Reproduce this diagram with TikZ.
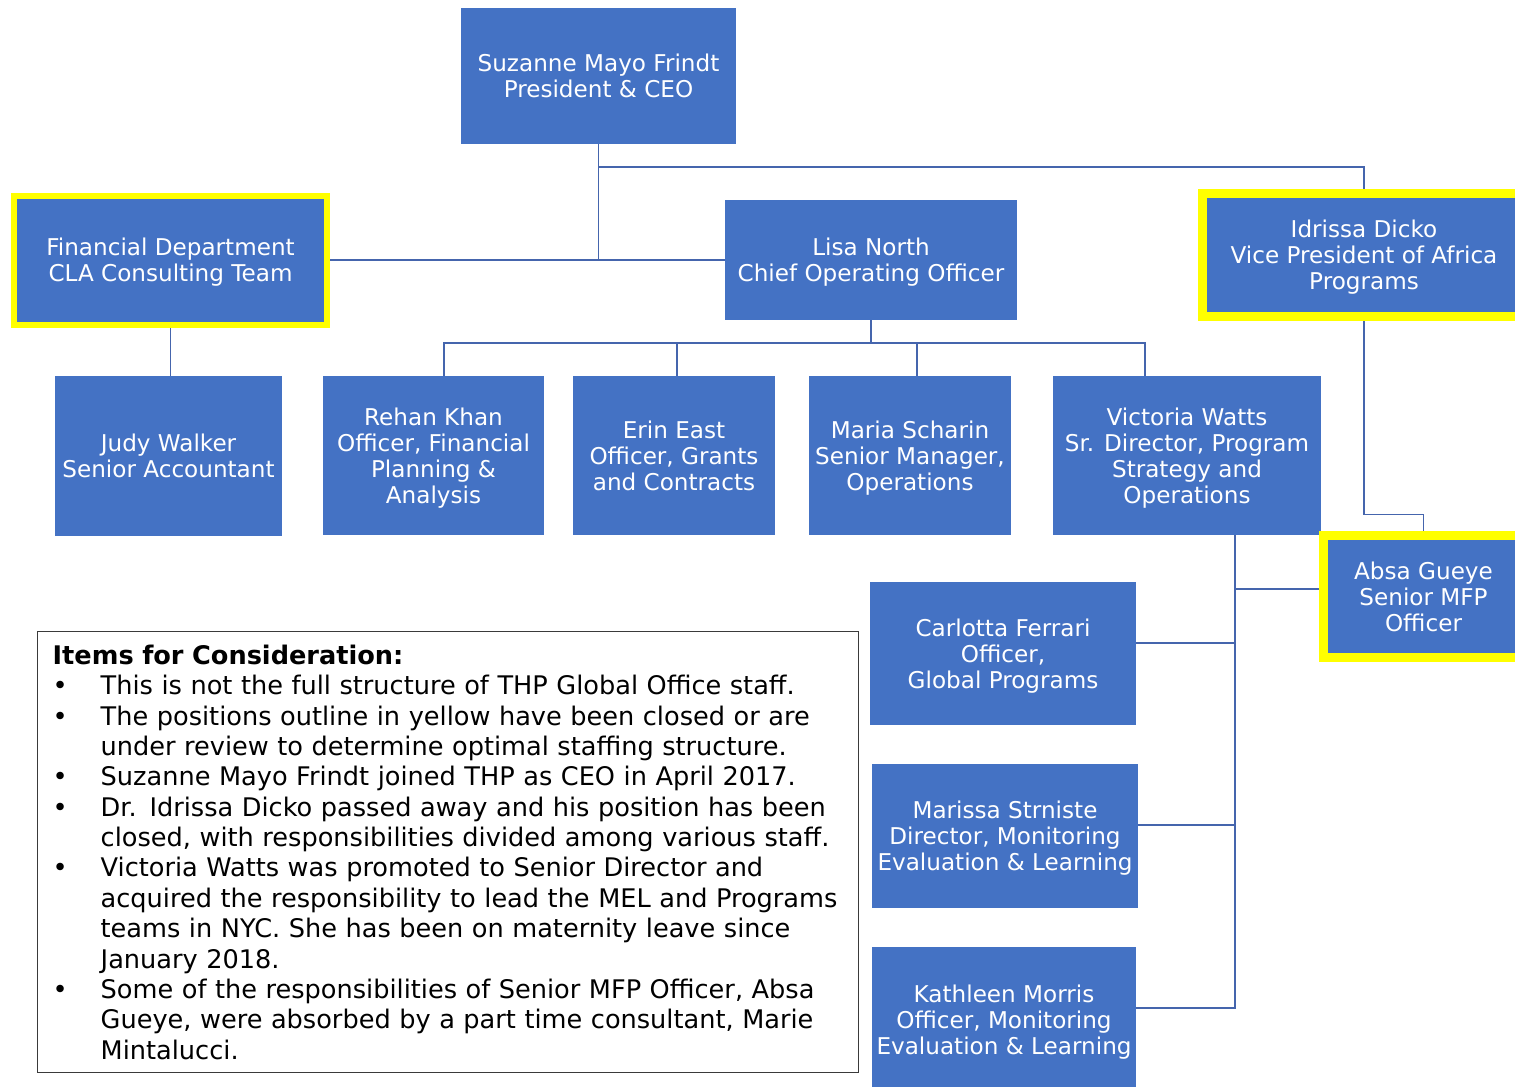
\documentclass[tikz,border=0pt]{standalone}
\usepackage{fontspec}
\setmainfont{DejaVu Sans}
\usepackage{tikz}

\definecolor{boxblue}{HTML}{4472C4}
\definecolor{linkblue}{HTML}{4565AD}
\definecolor{closedyellow}{HTML}{FFFF00}
\definecolor{notegray}{HTML}{3A3A3A}

\newcommand{\noteitem}{\par\noindent\hangindent=48bp\hangafter=1\makebox[48bp][l]{\textbullet}}

\begin{document}
\begin{tikzpicture}[x=1bp,y=1bp,
    staff/.style={fill=boxblue, text=white, align=center, inner sep=0pt, text depth=0pt,
        font=\fontsize{23.2}{26}\selectfont},
    closed/.style={staff, draw=closedyellow},
    link/.style={draw=linkblue, line width=1.6bp},
    notebox/.style={draw=notegray, line width=1.4bp, text width=791bp, inner xsep=15bp,
        minimum height=441bp, align=left, font=\fontsize{25.7}{30.5}\selectfont}]
    \useasboundingbox (0,0) rectangle (1515,-1086);
    \fill[white] (0,0) rectangle (1515,-1086);
    \clip (0,0) rectangle (1515,-1086);

    % top of the chart
    \node[staff, minimum width=275bp, minimum height=136bp] (ceo) at (598.5,-76) {Suzanne Mayo Frindt\\President \& CEO};
    \node[closed, line width=6bp, minimum width=313bp, minimum height=129bp] (fin) at (170.5,-260) {Financial Department\\CLA Consulting Team};
    \node[staff, minimum width=292bp, minimum height=120bp] (lisa) at (871,-260) {Lisa North\\Chief Operating Officer};
    \node[closed, line width=9bp, minimum width=323bp, minimum height=123bp] (idr) at (1364,-255) {Idrissa Dicko\\Vice President of Africa\\Programs};

    % second row
    \node[staff, minimum width=227bp, minimum height=160bp] (judy) at (168.5,-456) {Judy Walker\\Senior Accountant};
    \node[staff, minimum width=221bp, minimum height=159bp] (rehan) at (433.5,-455.5) {Rehan Khan\\Officer, Financial\\Planning \&\\Analysis};
    \node[staff, minimum width=202bp, minimum height=159bp] (erin) at (674,-455.5) {Erin East\\Officer, Grants\\and Contracts};
    \node[staff, minimum width=202bp, minimum height=159bp] (maria) at (910,-455.5) {Maria Scharin\\Senior Manager,\\Operations};
    \node[staff, minimum width=268bp, minimum height=159bp] (vic) at (1187,-455.5) {Victoria Watts\\Sr. Director, Program\\Strategy and\\Operations};

    % under Victoria Watts
    \node[closed, line width=9bp, minimum width=200bp, minimum height=122bp] (absa) at (1423.5,-596.5) {Absa Gueye\\Senior MFP\\Officer};
    \node[staff, minimum width=266bp, minimum height=143bp] (carl) at (1003,-653.5) {Carlotta Ferrari\\Officer,\\Global Programs};
    \node[staff, minimum width=266bp, minimum height=144bp] (mar) at (1005,-836) {Marissa Strniste\\Director, Monitoring\\Evaluation \& Learning};
    \node[staff, minimum width=264bp, minimum height=146bp] (kath) at (1004,-1020) {Kathleen Morris\\Officer, Monitoring\\Evaluation \& Learning};

    % connectors
    \draw[link] (ceo.south) -- (ceo.south |- lisa.west);
    \draw[link] (fin.east) -- (lisa.west);
    \draw[link] (ceo.south) ++(0,-23) -| (idr.north);
    \draw[link] (fin.south) -- (fin.south |- judy.north);
    \draw[link] (lisa.south) -- ++(0,-23) coordinate (lisabus);
    \draw[link] ([xshift=10.5bp]rehan.north) |- (lisabus) -| ([xshift=-42bp]vic.north);
    \draw[link] ([xshift=3bp]erin.north) -- ([xshift=3bp]erin.north |- lisabus);
    \draw[link] ([xshift=7bp]maria.north) -- ([xshift=7bp]maria.north |- lisabus);
    \draw[link] (idr.south) -- ++(0,-193.5) -| (absa.north);
    \draw[link] ([xshift=48bp]vic.south) coordinate (vicdrop) |- ([yshift=12bp]kath.east);
    \draw[link] ([yshift=7.5bp]absa.west) -| (vicdrop);
    \draw[link] ([yshift=10.5bp]carl.east) -| (vicdrop);
    \draw[link] ([yshift=11bp]mar.east) -| (vicdrop);

    % notes
    \node[notebox, anchor=north west] (notes) at (37,-631) {\textbf{Items for Consideration:}
        \noteitem This is not the full structure of THP Global Office staff.
        \noteitem The positions outline in yellow have been closed or are\newline under review to determine optimal staffing structure.
        \noteitem Suzanne Mayo Frindt joined THP as CEO in April 2017.
        \noteitem Dr. Idrissa Dicko passed away and his position has been\newline closed, with responsibilities divided among various staff.
        \noteitem Victoria Watts was promoted to Senior Director and\newline acquired the responsibility to lead the MEL and Programs\newline teams in NYC. She has been on maternity leave since\newline January 2018.
        \noteitem Some of the responsibilities of Senior MFP Officer, Absa\newline Gueye, were absorbed by a part time consultant, Marie\newline Mintalucci.\par};
\end{tikzpicture}
\end{document}
